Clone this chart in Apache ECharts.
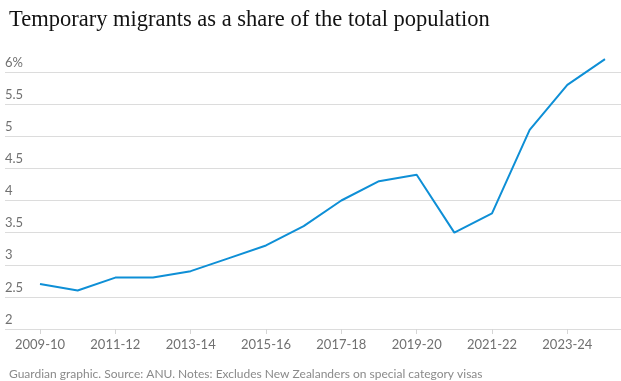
<!DOCTYPE html>
<html>
<head>
<meta charset="utf-8">
<script src="https://cdn.jsdelivr.net/npm/echarts@6/dist/echarts.min.js"></script>
<style>html,body{margin:0;padding:0;background:#fff}#c{width:621px;height:381px}</style>
</head>
<body>
<div id="c"></div>
<script>
var categories = ['2009-10','2010-11','2011-12','2012-13','2013-14','2014-15','2015-16','2016-17','2017-18','2018-19','2019-20','2020-21','2021-22','2022-23','2023-24','2024-25'];
var shareValues = [2.7, 2.6, 2.8, 2.8, 2.9, 3.1, 3.3, 3.6, 4.0, 4.3, 4.4, 3.5, 3.8, 5.1, 5.8, 6.2];
var yTicks = [2, 2.5, 3, 3.5, 4, 4.5, 5, 5.5, 6];

var chart = echarts.init(document.getElementById('c'), null, {renderer: 'canvas'});
var gridTop = 72, gridBottom = 52;
chart.setOption({
  animation: false,
  title: [{
    text: 'Temporary migrants as a share of the total population',
    left: 4, top: 4,
    textStyle: {fontFamily: 'Liberation Serif', fontWeight: 'normal', fontSize: 22.5, color: '#121212'}
  }, {
    text: 'Guardian graphic. Source: ANU. Notes: Excludes New Zealanders on special category visas',
    left: 4, top: 363,
    textStyle: {fontFamily: 'Lato', fontWeight: 'normal', fontSize: 12, color: '#8a8a8a'}
  }],
  grid: [
    {left: 5, right: 0, top: gridTop, bottom: gridBottom},
    {left: 40, right: 16, top: gridTop, bottom: gridBottom}
  ],
  xAxis: [{
    gridIndex: 0, type: 'value', min: 0, max: 1, show: false
  }, {
    gridIndex: 1, type: 'category', data: categories, boundaryGap: false,
    axisLine: {show: false},
    axisTick: {show: true, interval: 1, length: 5, lineStyle: {color: '#d6d6d6'}},
    axisLabel: {interval: 1, margin: 9, fontFamily: 'Lato', fontSize: 13, color: '#707070'},
    splitLine: {show: false}
  }],
  yAxis: [{
    gridIndex: 0, type: 'value', min: yTicks[0], max: yTicks[yTicks.length - 1], interval: 0.5,
    axisLine: {show: false}, axisTick: {show: false},
    axisLabel: {
      inside: true, margin: 0, verticalAlign: 'bottom', padding: [0, 0, 3, 0],
      fontFamily: 'Lato', fontSize: 13, color: '#707070',
      formatter: function (v) { return v === 6 ? '6%' : String(v); }
    },
    splitLine: {lineStyle: {color: '#dcdcdc', width: 1}}
  }, {
    gridIndex: 1, type: 'value', min: yTicks[0], max: yTicks[yTicks.length - 1], interval: 0.5, show: false,
    splitLine: {show: false}
  }],
  series: [{
    type: 'line', xAxisIndex: 1, yAxisIndex: 1, data: shareValues, clip: false,
    symbol: 'none', lineStyle: {color: '#0e8fd6', width: 2}, z: 5
  }]
});
</script>
</body>
</html>
